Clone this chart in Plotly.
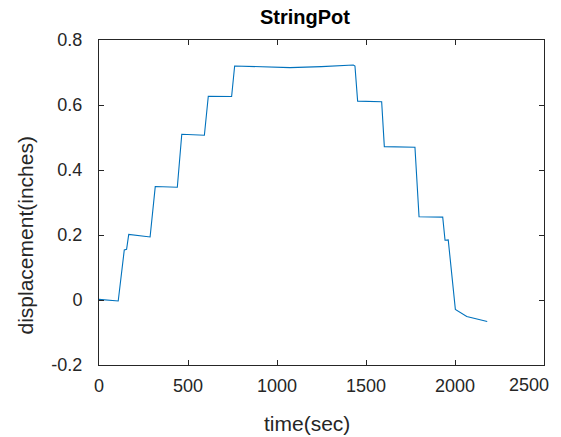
import plotly.graph_objects as go

time_sec = [0, 108, 142, 155, 167, 287, 316, 440, 465, 592, 614, 745, 762, 900,
            1073, 1250, 1429, 1438, 1453, 1588, 1603, 1775, 1798, 1931, 1944,
            1962, 2002, 2066, 2140, 2181]
displacement = [0.002, -0.003, 0.154, 0.156, 0.202, 0.194, 0.349, 0.347, 0.510,
                0.507, 0.627, 0.626, 0.720, 0.717, 0.715, 0.718, 0.723, 0.720,
                0.612, 0.610, 0.472, 0.470, 0.256, 0.255, 0.184, 0.185, -0.029,
                -0.051, -0.062, -0.066]

x_ticks = [0, 500, 1000, 1500, 2000, 2500]
x_tick_text = ["0", "500", "1000", "1500", "2000", ""]
last_x_tick_label = "2500"
y_ticks = [-0.2, 0, 0.2, 0.4, 0.6, 0.8]
y_tick_text = ["-0.2", "0", "0.2", "0.4", "0.6", "0.8"]

title_text = "StringPot"
x_label = "time(sec)"
y_label = "displacement(inches)"

ax_col = "#262626"
font = "Liberation Sans, Arial, Helvetica, sans-serif"

fig = go.Figure(go.Scatter(x=time_sec, y=displacement, mode="lines",
                           line=dict(color="#0072BD", width=1.1)))

fig.update_layout(
    width=561, height=437,
    margin=dict(l=99, r=17, t=40, b=72),
    paper_bgcolor="white", plot_bgcolor="white",
    showlegend=False,
    font=dict(family=font, size=18, color=ax_col),
    title=dict(text="<b>" + title_text + "</b>", x=305 / 561, xanchor="center",
               xref="container", y=1 - 17 / 437, yanchor="middle",
               font=dict(family=font, size=20, color="black")),
)
fig.update_xaxes(range=[0, 2500], tickvals=x_ticks, ticktext=x_tick_text,
                 ticks="inside", ticklen=5,
                 tickcolor=ax_col, showline=True, linecolor=ax_col, linewidth=1,
                 mirror="ticks", showgrid=False, zeroline=False, automargin=False,
                 ticklabelstandoff=4, tickfont=dict(size=18))
fig.update_yaxes(range=[-0.2, 0.8], tickvals=y_ticks, ticktext=y_tick_text,
                 ticks="inside", ticklen=5,
                 tickcolor=ax_col, showline=True, linecolor=ax_col, linewidth=1,
                 mirror="ticks", showgrid=False, zeroline=False, automargin=False,
                 ticklabelstandoff=12, tickfont=dict(size=18))

# last x tick label, kept inside the figure like the reference
fig.add_annotation(x=x_ticks[-1], xref="x", y=0, yref="paper", text=last_x_tick_label,
                   showarrow=False, xanchor="right", xshift=7, yanchor="middle",
                   yshift=-20, font=dict(size=18, color=ax_col))
# axis titles
fig.add_annotation(x=(307 - 99) / 445, xref="paper", y=(365 - 423) / 325, yref="paper",
                   text=x_label, showarrow=False, xanchor="center", yanchor="middle",
                   font=dict(size=21, color=ax_col))
fig.add_annotation(x=(24.5 - 99) / 445, xref="paper", y=(365 - 236) / 325, yref="paper",
                   text=y_label, showarrow=False, textangle=-90,
                   xanchor="center", yanchor="middle",
                   font=dict(size=21, color=ax_col))

fig.write_html("out.html", config={"displayModeBar": False},
               post_script="document.body.style.margin='0';document.body.style.overflow='hidden';")
